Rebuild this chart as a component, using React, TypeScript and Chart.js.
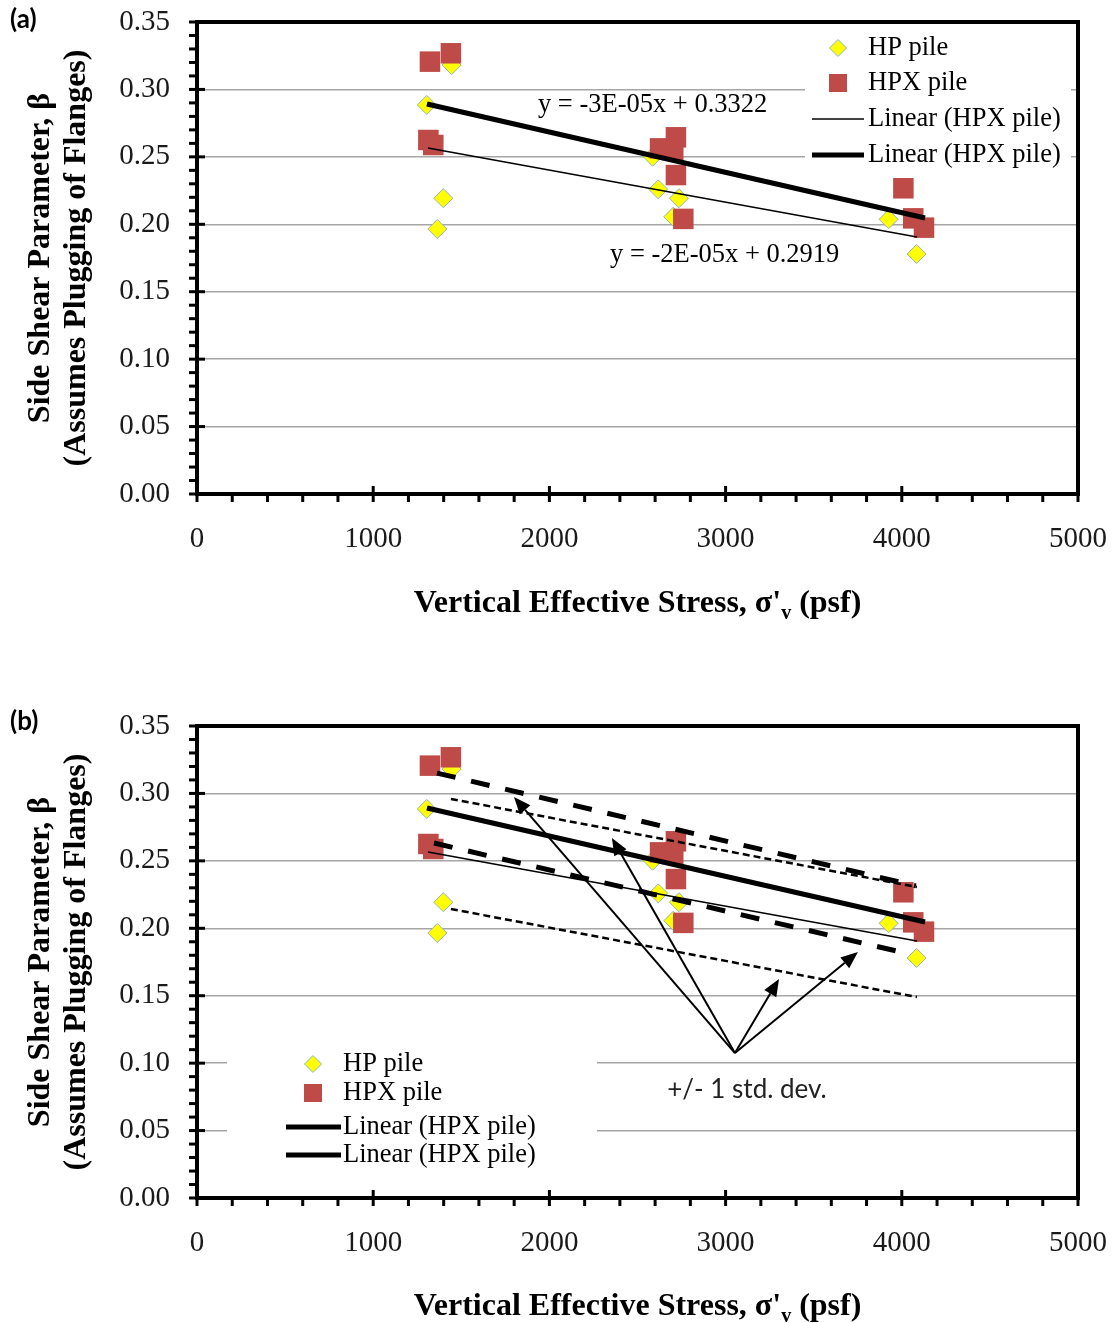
import React, { useEffect, useRef } from "react";
import { Chart, registerables } from "chart.js";

Chart.register(...registerables);

const SERIF = '"Liberation Serif", "Times New Roman", Times, serif';
const SANS = 'Lato, "Open Sans", "Liberation Sans", sans-serif';

// ---------------- data ----------------
const hpX = [1304, 1445, 1398, 1364, 2586, 2618, 2735, 2703, 3925, 4084];
const hpY = [0.2885, 0.318, 0.2193, 0.1965, 0.2501, 0.2259, 0.2193, 0.2056, 0.2037, 0.178];

const hpxX = [1322, 1441, 1313, 1341, 2628, 2718, 2703, 2718, 2760, 4009, 4065, 4126];
const hpxY = [0.3206, 0.3268, 0.2625, 0.2588, 0.2563, 0.2645, 0.2551, 0.2365, 0.204, 0.2267, 0.2044, 0.1975];

const trendThickX = [1305, 4132];
const trendThickY = [0.2892, 0.2047];
const trendThinX = [1311, 4086];
const trendThinY = [0.2566, 0.1906];

const upperDashX = [1362, 4080];
const upperDashY = [0.3151, 0.2314];
const lowerDashX = [1345, 4018];
const lowerDashY = [0.2632, 0.1817];
const upperDotX = [1441, 4086];
const upperDotY = [0.2959, 0.2306];
const lowerDotX = [1441, 4086];
const lowerDotY = [0.2143, 0.149];

const arrowFromX = 3053;
const arrowFromY = 0.1075;
const arrowToX = [1799, 2355, 3303, 3751];
const arrowToY = [0.2973, 0.2669, 0.1624, 0.1824];

const seriesNames = ["HP pile", "HPX pile", "Linear (HPX pile)", "Linear (HPX pile)"];
const equationTexts = ["y = -3E-05x + 0.3322", "y = -2E-05x + 0.2919"];
const equationX = [1935, 2344];
const equationY = [0.2885, 0.1772];
const stdDevText = "+/- 1 std. dev.";
const stdDevX = 3121;
const stdDevY = 0.0801;

const xTitleMain = "Vertical Effective Stress, σ'";
const xTitleSub = "v";
const xTitleTail = " (psf)";
const yTitleLines = ["Side Shear Parameter, β", "(Assumes Plugging of Flanges)"];
const panelLabels = ["(a)", "(b)"];

const xMin = 0, xMax = 5000, xStep = 1000, xMinorStep = 200;
const yMin = 0, yMax = 0.35, yStep = 0.05, yMinorStep = 0.01;

// ---------------- styles ----------------
const HPX_COLOR = "#BE4B48";
const HP_FILL = "#FFFF00";
const HP_BORDER = "#8FB0C8";
const W = 1119;

const pts = (xs: number[], ys: number[]) => xs.map((x, i) => ({ x, y: ys[i] }));

function diamond(ctx: any, x: number, y: number, r: number) {
  ctx.beginPath();
  ctx.moveTo(x, y - r);
  ctx.lineTo(x + r, y);
  ctx.lineTo(x, y + r);
  ctx.lineTo(x - r, y);
  ctx.closePath();
  ctx.fillStyle = HP_FILL;
  ctx.fill();
  ctx.strokeStyle = HP_BORDER;
  ctx.lineWidth = 1;
  ctx.stroke();
}

function makePlugin(cfg: any) {
  return {
    id: "custom" + cfg.idx,
    afterDraw(chart: any) {
      const { ctx, chartArea: ca } = chart;
      const xs = chart.scales.x;
      const ys = chart.scales.y;
      ctx.save();

      // legend box
      const L = cfg.legend;
      ctx.fillStyle = "#fff";
      ctx.fillRect(L.x0, L.y0, L.x1 - L.x0, L.y1 - L.y0);
      diamond(ctx, L.markerX, L.rows[0], 8.5);
      ctx.fillStyle = HPX_COLOR;
      ctx.fillRect(L.markerX - 9, L.rows[1] - 9, 18, 18);
      for (let k = 0; k < 2; k++) {
        ctx.beginPath();
        ctx.strokeStyle = "#000";
        ctx.lineWidth = L.lineW[k];
        ctx.moveTo(L.lineX0, L.rows[2 + k]);
        ctx.lineTo(L.lineX1, L.rows[2 + k]);
        ctx.stroke();
      }
      ctx.fillStyle = "#000";
      ctx.font = `26.5px ${SERIF}`;
      ctx.textAlign = "left";
      ctx.textBaseline = "middle";
      seriesNames.forEach((n, i) => ctx.fillText(n, L.textX, L.rows[i]));

      // frame
      ctx.strokeStyle = "#000";
      ctx.lineWidth = 4;
      ctx.strokeRect(ca.left, ca.top, ca.right - ca.left, ca.bottom - ca.top);

      // ticks
      ctx.lineWidth = 3;
      const ny = Math.round((yMax - yMin) / yMinorStep);
      const yPer = Math.round(yStep / yMinorStep);
      for (let i = 0; i <= ny; i++) {
        const py = ys.getPixelForValue(yMin + i * yMinorStep);
        ctx.beginPath();
        ctx.moveTo(ca.left - 8, py);
        ctx.lineTo(i % yPer === 0 ? ca.left + 8 : ca.left, py);
        ctx.stroke();
      }
      const nx = Math.round((xMax - xMin) / xMinorStep);
      const xPer = Math.round(xStep / xMinorStep);
      for (let i = 0; i <= nx; i++) {
        const px = xs.getPixelForValue(xMin + i * xMinorStep);
        ctx.beginPath();
        ctx.moveTo(px, i % xPer === 0 ? ca.bottom - 8 : ca.bottom);
        ctx.lineTo(px, ca.bottom + 8);
        ctx.stroke();
      }

      // annotations
      ctx.fillStyle = "#000";
      if (cfg.idx === 0) {
        ctx.font = `26.5px ${SERIF}`;
        ctx.textAlign = "left";
        ctx.textBaseline = "middle";
        equationTexts.forEach((t, i) =>
          ctx.fillText(t, xs.getPixelForValue(equationX[i]), ys.getPixelForValue(equationY[i]))
        );
      } else {
        ctx.font = `26px ${SANS}`;
        ctx.textAlign = "center";
        ctx.textBaseline = "middle";
        ctx.fillStyle = "#222";
        ctx.fillText(stdDevText, xs.getPixelForValue(stdDevX), ys.getPixelForValue(stdDevY));
        const ox = xs.getPixelForValue(arrowFromX);
        const oy = ys.getPixelForValue(arrowFromY);
        ctx.strokeStyle = "#000";
        ctx.fillStyle = "#000";
        ctx.lineWidth = 2;
        arrowToX.forEach((tx0, i) => {
          const tx = xs.getPixelForValue(tx0);
          const ty = ys.getPixelForValue(arrowToY[i]);
          const a = Math.atan2(ty - oy, tx - ox);
          const hl = 17, hw = 7;
          const bx = tx - hl * Math.cos(a);
          const by = ty - hl * Math.sin(a);
          ctx.beginPath();
          ctx.moveTo(ox, oy);
          ctx.lineTo(bx, by);
          ctx.stroke();
          ctx.beginPath();
          ctx.moveTo(tx, ty);
          ctx.lineTo(bx + hw * Math.sin(a), by - hw * Math.cos(a));
          ctx.lineTo(bx - hw * Math.sin(a), by + hw * Math.cos(a));
          ctx.closePath();
          ctx.fill();
        });
      }

      // axis titles
      ctx.fillStyle = "#000";
      const cx = (ca.left + ca.right) / 2;
      ctx.font = `bold 32px ${SERIF}`;
      const w1 = ctx.measureText(xTitleMain).width;
      const w3 = ctx.measureText(xTitleTail).width;
      ctx.font = `bold 20px ${SERIF}`;
      const w2 = ctx.measureText(xTitleSub).width;
      const tx = cx - (w1 + w2 + w3) / 2;
      const base = cfg.xTitleY + 11;
      ctx.textAlign = "left";
      ctx.textBaseline = "alphabetic";
      ctx.font = `bold 32px ${SERIF}`;
      ctx.fillText(xTitleMain, tx, base);
      ctx.font = `bold 20px ${SERIF}`;
      ctx.fillText(xTitleSub, tx + w1, base + 7);
      ctx.font = `bold 32px ${SERIF}`;
      ctx.fillText(xTitleTail, tx + w1 + w2, base);

      const cy = (ca.top + ca.bottom) / 2;
      ctx.textAlign = "center";
      ctx.textBaseline = "middle";
      [41, 77].forEach((lx, i) => {
        ctx.save();
        ctx.translate(lx, cy);
        ctx.rotate(-Math.PI / 2);
        ctx.fillText(yTitleLines[i], 0, 0);
        ctx.restore();
      });

      // panel label
      ctx.font = `bold 26px ${SANS}`;
      ctx.textAlign = "left";
      ctx.textBaseline = "middle";
      ctx.fillText(panelLabels[cfg.idx], 10, cfg.labelY);

      ctx.restore();
    },
  };
}

function Panel({ cfg }: { cfg: any }) {
  const ref = useRef<HTMLCanvasElement>(null);
  useEffect(() => {
    const canvas = ref.current;
    if (!canvas) return;
    const datasets: any[] = [
      {
        label: "Linear (HPX pile) thick",
        data: pts(trendThickX, trendThickY),
        showLine: true,
        borderColor: "#000",
        borderWidth: 5,
        pointRadius: 0,
        order: 0,
      },
      {
        label: "Linear (HPX pile) thin",
        data: pts(trendThinX, trendThinY),
        showLine: true,
        borderColor: "#000",
        borderWidth: 1.5,
        pointRadius: 0,
        order: 0,
      },
      {
        label: seriesNames[1],
        data: pts(hpxX, hpxY),
        pointStyle: "rect",
        pointRadius: 14.5,
        backgroundColor: HPX_COLOR,
        borderColor: HPX_COLOR,
        borderWidth: 0,
        order: 1,
      },
      {
        label: seriesNames[0],
        data: pts(hpX, hpY),
        pointStyle: "rectRot",
        pointRadius: 9.5,
        backgroundColor: HP_FILL,
        borderColor: HP_BORDER,
        borderWidth: 1,
        order: 2,
      },
    ];
    if (cfg.idx === 1) {
      const dashed = [
        [upperDashX, upperDashY, 5, [19, 16]],
        [lowerDashX, lowerDashY, 5, [19, 16]],
        [upperDotX, upperDotY, 2.5, [7, 4]],
        [lowerDotX, lowerDotY, 2.5, [7, 4]],
      ];
      dashed.forEach((d: any, i) =>
        datasets.push({
          label: "std " + i,
          data: pts(d[0], d[1]),
          showLine: true,
          borderColor: "#000",
          borderWidth: d[2],
          borderDash: d[3],
          pointRadius: 0,
          order: 0,
        })
      );
    }
    const tickFont = { family: SERIF, size: 29 };
    const chart = new Chart(canvas, {
      type: "scatter",
      data: { datasets },
      options: {
        responsive: false,
        animation: false,
        devicePixelRatio: 1,
        layout: { padding: { top: cfg.plotTop, right: W - 1078, left: 0, bottom: 0 } },
        plugins: {
          legend: { display: false },
          tooltip: { enabled: false },
          title: { display: false },
        },
        scales: {
          x: {
            type: "linear",
            min: xMin,
            max: xMax,
            ticks: {
              stepSize: xStep,
              font: tickFont,
              color: "#1a1a1a",
              padding: 28,
              maxRotation: 0,
              autoSkip: false,
              callback: (v: any) => String(Math.round(Number(v))),
            },
            grid: { display: false, drawTicks: false },
            border: { display: false },
            afterFit: (s: any) => {
              s.height = cfg.height - cfg.plotBottom;
              s.paddingLeft = 0;
              s.paddingRight = 0;
              s.paddingTop = 0;
              s.paddingBottom = 0;
            },
          },
          y: {
            type: "linear",
            min: yMin,
            max: yMax,
            ticks: {
              stepSize: yStep,
              font: tickFont,
              color: "#1a1a1a",
              padding: 27,
              callback: (v: any) => Number(v).toFixed(2),
            },
            grid: { color: "#A6A6A6", lineWidth: 1.5, drawTicks: false },
            border: { display: false },
            afterFit: (s: any) => {
              s.width = 197;
              s.paddingLeft = 0;
              s.paddingRight = 0;
              s.paddingTop = 0;
              s.paddingBottom = 0;
            },
          },
        },
      } as any,
      plugins: [makePlugin(cfg)],
    });
    return () => chart.destroy();
  }, []);
  return (
    <canvas
      ref={ref}
      width={W}
      height={cfg.height}
      style={{ display: "block", width: W, height: cfg.height }}
    />
  );
}

const panelA = {
  idx: 0,
  height: 660,
  plotTop: 22,
  plotBottom: 494,
  xTitleY: 601,
  labelY: 20,
  legend: {
    x0: 805, y0: 26, x1: 1071, y1: 172,
    markerX: 838, textX: 868,
    rows: [48, 83, 119, 155],
    lineX0: 812, lineX1: 864, lineW: [1.5, 5],
  },
};

const panelB = {
  idx: 1,
  height: 663,
  plotTop: 66,
  plotBottom: 538,
  xTitleY: 644,
  labelY: 62,
  legend: {
    x0: 227, y0: 382, x1: 597, y1: 512,
    markerX: 313, textX: 343,
    rows: [404, 433, 467, 495],
    lineX0: 286, lineX1: 341, lineW: [5, 5],
  },
};

export default function App() {
  return (
    <div style={{ position: "absolute", left: 0, top: 0, width: W, height: 1323, background: "#fff" }}>
      <Panel cfg={panelA} />
      <Panel cfg={panelB} />
    </div>
  );
}
